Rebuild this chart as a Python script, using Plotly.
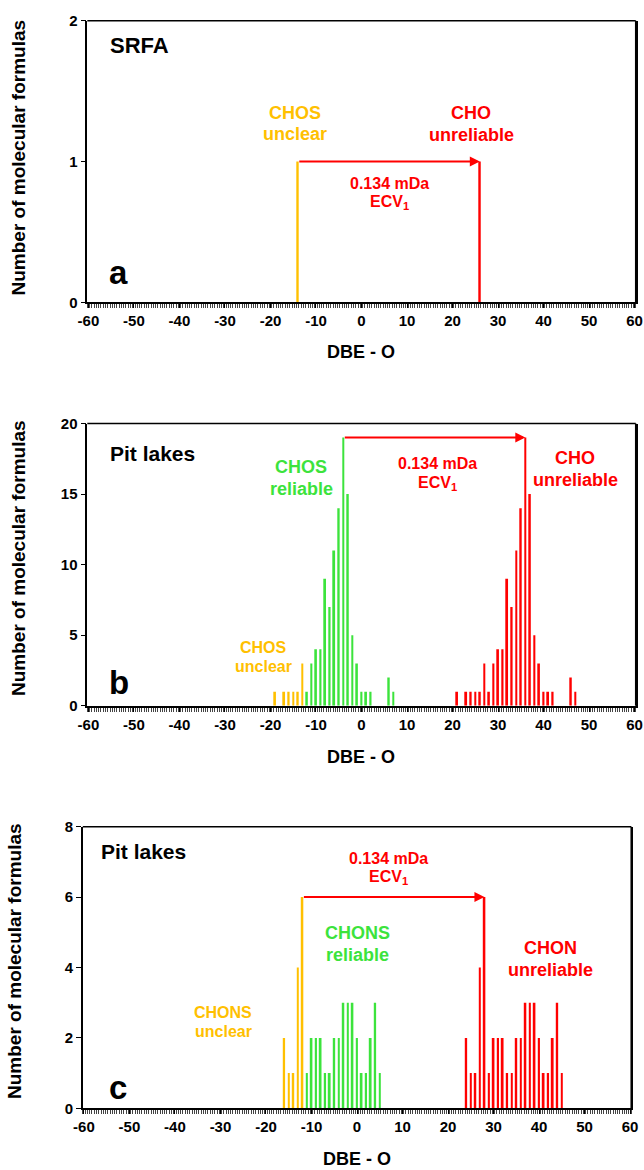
import plotly.graph_objects as go

W, H = 644, 1170
FONT = "Arial, 'Liberation Sans', sans-serif"
YELLOW = "#FFC000"
GREEN = "#3CE33C"
RED = "#FF0000"

# ---------------- data ----------------
# Panel a (SRFA)
a_chos_unclear_x = [-14]
a_chos_unclear_y = [1]
a_cho_unrel_x = [26]
a_cho_unrel_y = [1]

# Panel b (Pit lakes, CHOS / CHO)
b_chos_unclear_x = [-19, -17, -16, -15, -14, -13]
b_chos_unclear_y = [1, 1, 1, 1, 1, 3]
b_chos_rel_x = [-12, -11, -10, -9, -8, -7, -6, -5, -4, -3, -2, -1, 0, 1, 2, 6, 7]
b_chos_rel_y = [1, 3, 4, 4, 9, 7, 11, 14, 19, 15, 5, 3, 1, 1, 1, 2, 1]
b_cho_unrel_x = [21, 23, 24, 25, 26, 27, 28, 29, 30, 31, 32, 33, 34, 35, 36, 37, 38, 39, 40, 41, 42, 46, 47]
b_cho_unrel_y = [1, 1, 1, 1, 1, 3, 1, 3, 4, 4, 9, 7, 11, 14, 19, 15, 5, 3, 1, 1, 1, 2, 1]

# Panel c (Pit lakes, CHONS / CHON)
c_chons_unclear_x = [-16, -15, -14, -13, -12]
c_chons_unclear_y = [2, 1, 1, 4, 6]
c_chons_rel_x = [-11, -10, -9, -8, -7, -6, -5, -4, -3, -2, -1, 0, 1, 2, 3, 4, 5]
c_chons_rel_y = [1, 2, 2, 2, 1, 1, 2, 2, 3, 3, 3, 2, 1, 1, 2, 3, 1]
c_chon_unrel_x = [24, 25, 26, 27, 28, 29, 30, 31, 32, 33, 34, 35, 36, 37, 38, 39, 40, 41, 42, 43, 44, 45]
c_chon_unrel_y = [2, 1, 1, 4, 6, 1, 2, 2, 2, 1, 1, 2, 2, 3, 3, 3, 2, 1, 1, 2, 3, 1]

x_ticks = list(range(-60, 61, 10))
a_y_ticks = [0, 1, 2]
b_y_ticks = [0, 5, 10, 15, 20]
c_y_ticks = [0, 2, 4, 6, 8]

# ---------------- layout geometry (pixels) ----------------
panels = [
    # (suffix, x0, x1, ytop, ybot, yticks)
    ("", 87.3, 635.7, 20.7, 302.3, a_y_ticks),
    ("2", 87.3, 635.7, 423.5, 705.8, b_y_ticks),
    ("3", 82.8, 631.2, 826.7, 1108.3, c_y_ticks),
]

fig = go.Figure()
BW = 0.4


def add_bars(xs, ys, color, idx):
    sfx = panels[idx][0]
    fig.add_trace(go.Bar(x=xs, y=ys, width=BW, marker=dict(color=color, line=dict(width=0)),
                         xaxis="x" + sfx, yaxis="y" + sfx, showlegend=False, hoverinfo="x+y"))


add_bars(a_chos_unclear_x, a_chos_unclear_y, YELLOW, 0)
add_bars(a_cho_unrel_x, a_cho_unrel_y, RED, 0)
add_bars(b_chos_unclear_x, b_chos_unclear_y, YELLOW, 1)
add_bars(b_chos_rel_x, b_chos_rel_y, GREEN, 1)
add_bars(b_cho_unrel_x, b_cho_unrel_y, RED, 1)
add_bars(c_chons_unclear_x, c_chons_unclear_y, YELLOW, 2)
add_bars(c_chons_rel_x, c_chons_rel_y, GREEN, 2)
add_bars(c_chon_unrel_x, c_chon_unrel_y, RED, 2)

layout = dict(
    template="none",
    width=W, height=H, autosize=False,
    margin=dict(l=0, r=0, t=0, b=0, pad=0, autoexpand=False),
    paper_bgcolor="white", plot_bgcolor="white",
    barmode="overlay", showlegend=False,
    font=dict(family=FONT, color="black"),
)

for sfx, x0, x1, yt, yb, yticks in panels:
    layout["xaxis" + sfx] = dict(
        domain=[x0 / W, x1 / W], range=[-60.25, 60.25],
        anchor="y" + sfx, automargin=False,
        tickvals=x_ticks, ticktext=[str(v) for v in x_ticks],
        ticks="outside", ticklen=4, tickwidth=1, tickcolor="black",
        minor=dict(dtick=0.5, tick0=-60.25, ticks="outside", ticklen=4, tickwidth=1, tickcolor="#444",
                   showgrid=False),
        showline=True, linecolor="black", linewidth=2, mirror=False,
        showgrid=False, zeroline=False,
        tickfont=dict(family=FONT, size=15, color="black", weight="bold"),
        fixedrange=True,
    )
    layout["yaxis" + sfx] = dict(
        domain=[1 - yb / H, 1 - yt / H], range=[0, yticks[-1]],
        anchor="x" + sfx, automargin=False,
        tickvals=yticks, ticktext=[str(v) for v in yticks],
        ticks="outside", ticklen=5, tickwidth=1, tickcolor="black",
        showline=True, linecolor="black", linewidth=1.5, mirror=True,
        showgrid=False, zeroline=False,
        tickfont=dict(family=FONT, size=15, color="black", weight="bold"),
        fixedrange=True,
    )

fig.update_layout(**layout)

# top/right frame lines
for sfx, x0, x1, yt, yb, yticks in panels:
    fig.add_shape(type="line", xref="paper", yref="paper",
                  x0=x0 / W, x1=x1 / W, y0=1 - yt / H, y1=1 - yt / H,
                  line=dict(color="black", width=1.5))
    fig.add_shape(type="line", xref="paper", yref="paper",
                  x0=x1 / W, x1=x1 / W, y0=1 - yb / H, y1=1 - yt / H,
                  line=dict(color="black", width=1.5))

ann = []


def txt(x, y, s, size, color="black", xanchor="center", angle=0):
    ann.append(dict(x=x / W, y=1 - y / H, xref="paper", yref="paper", text=s,
                    showarrow=False, textangle=angle,
                    font=dict(family=FONT, size=size, color=color, weight="bold"),
                    xanchor=xanchor, yanchor="middle"))


def arrow(idx, xs_from, ys_from, xs_to, ys_to):
    sfx = panels[idx][0]
    i0 = ys_from.index(max(ys_from))
    i1 = ys_to.index(max(ys_to))
    ann.append(dict(x=xs_to[i1], y=ys_to[i1], ax=xs_from[i0], ay=ys_from[i0],
                    xref="x" + sfx, yref="y" + sfx, axref="x" + sfx, ayref="y" + sfx,
                    text="", showarrow=True, arrowhead=2, arrowsize=1, arrowwidth=2,
                    arrowcolor=RED, standoff=0, startstandoff=0))


arrow(0, a_chos_unclear_x, a_chos_unclear_y, a_cho_unrel_x, a_cho_unrel_y)
arrow(1, b_chos_rel_x, b_chos_rel_y, b_cho_unrel_x, b_cho_unrel_y)
arrow(2, c_chons_unclear_x, c_chons_unclear_y, c_chon_unrel_x, c_chon_unrel_y)

YT = "Number of molecular formulas"
# Panel a
txt(18, 157.5, YT, 19, angle=-90)
txt(361, 352, "DBE - O", 18)
txt(108, 46, "SRFA", 22, xanchor="left")
txt(107, 272, "a", 33, xanchor="left")
txt(295, 113, "CHOS", 18, YELLOW)
txt(295, 134, "unclear", 18, YELLOW)
txt(471, 113, "CHO", 18, RED)
txt(471, 135, "unreliable", 18, RED)
txt(389, 183, "0.134 mDa", 16, RED)
txt(389, 202, "ECV<sub>1</sub>", 16, RED)

# Panel b
txt(18, 558, YT, 19, angle=-90)
txt(361, 757, "DBE - O", 18)
txt(108, 454, "Pit lakes", 21, xanchor="left")
txt(107, 682, "b", 33, xanchor="left")
txt(301, 467, "CHOS", 18, GREEN)
txt(301, 489, "reliable", 18, GREEN)
txt(263, 647, "CHOS", 16, YELLOW)
txt(263, 666, "unclear", 16, YELLOW)
txt(437, 464, "0.134 mDa", 16, RED)
txt(437, 484, "ECV<sub>1</sub>", 16, RED)
txt(575, 458, "CHO", 18, RED)
txt(575, 480, "unreliable", 18, RED)

# Panel c
txt(14, 961, YT, 19, angle=-90)
txt(357, 1159, "DBE - O", 18)
txt(99, 851, "Pit lakes", 21, xanchor="left")
txt(107, 1087, "c", 33, xanchor="left")
txt(223, 1012, "CHONS", 16, YELLOW)
txt(223, 1031, "unclear", 16, YELLOW)
txt(357, 933, "CHONS", 18, GREEN)
txt(357, 955, "reliable", 18, GREEN)
txt(388, 859, "0.134 mDa", 16, RED)
txt(388, 877, "ECV<sub>1</sub>", 16, RED)
txt(550, 948, "CHON", 18, RED)
txt(550, 970, "unreliable", 18, RED)

fig.update_layout(annotations=ann)
fig.write_html(
    "out.html",
    config={"displayModeBar": False},
    post_script="document.body.style.margin='0';document.body.style.overflow='hidden';",
)
